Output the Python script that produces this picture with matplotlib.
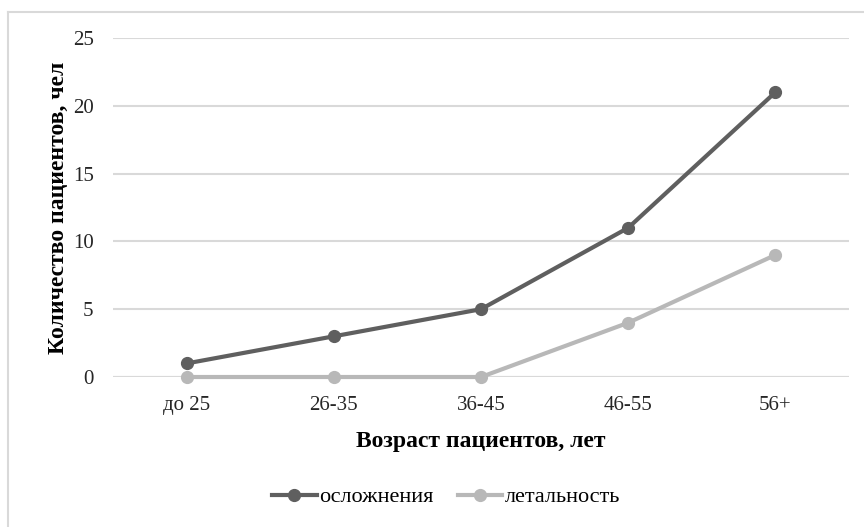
import matplotlib.pyplot as plt
from matplotlib.lines import Line2D

# data
age_groups = ["до 25", "26-35", "36-45", "46-55", "56+"]
complications = [1, 3, 5, 11, 21]
mortality = [0, 0, 0, 4, 9]

dark = "#5f5f5f"
light = "#b8b8b8"
grid = "#d9d9d9"

plt.rcParams['font.family'] = ['Liberation Serif', 'DejaVu Serif']

fig = plt.figure(figsize=(8.64, 5.27), dpi=100)
ax = fig.add_axes([113/864, 1-377/527, 736/864, 339/527])

# outer chart frame (only top/left visible in the reference)
fig.add_artist(Line2D([8/864, 8/864], [1-12/527, 0], color=grid, lw=1.5, transform=fig.transFigure))
fig.add_artist(Line2D([8/864, 1], [1-12/527, 1-12/527], color=grid, lw=1.5, transform=fig.transFigure))

x = range(len(age_groups))
ax.plot(x, mortality, '-o', color=light, lw=3, ms=8.5, label="летальность", zorder=3, clip_on=False)
ax.plot(x, complications, '-o', color=dark, lw=3, ms=8.5, label="осложнения", zorder=4, clip_on=False)

ax.set_xlim(-0.5, len(age_groups)-0.5)
ax.set_ylim(0, 25)
ax.set_yticks(range(0, 26, 5))
ax.set_xticks(list(x))
ax.set_xticklabels(age_groups)
ax.yaxis.grid(True, color=grid, lw=1.5)
ax.set_axisbelow(True)
for s in ax.spines.values():
    s.set_visible(False)
ax.axhline(0, color=grid, lw=1.5, zorder=1)
ax.tick_params(length=0, labelsize=15, colors="#262626")
ax.tick_params(axis='x', pad=14)
ax.tick_params(axis='y', pad=14)

ax.set_xlabel("Возраст пациентов, лет", fontsize=17, fontweight='bold', labelpad=11)
ax.set_ylabel("Количество пациентов, чел", fontsize=17, fontweight='bold', labelpad=3)

h, l = ax.get_legend_handles_labels()
ax.legend(h[::-1], l[::-1], loc='center', bbox_to_anchor=(446/864, 1-497/527),
          bbox_transform=fig.transFigure, ncol=2, frameon=False, fontsize=16,
          handlelength=2.0, handletextpad=0.1, columnspacing=1.1)

fig.savefig("out.png", dpi=100)
